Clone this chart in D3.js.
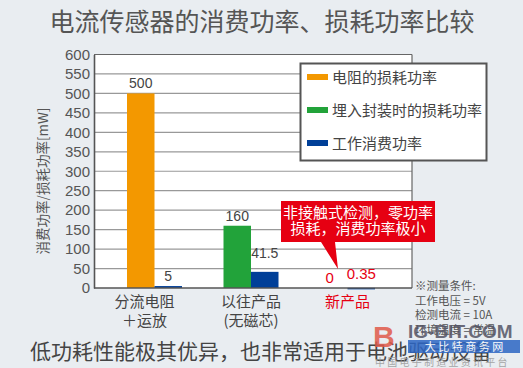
<!DOCTYPE html>
<html><head><meta charset="utf-8">
<script src="https://cdn.jsdelivr.net/npm/d3@7/dist/d3.min.js"></script>
<style>
body{margin:0;background:#e9edf1;}
svg{display:block;font-family:"Liberation Sans","Noto Sans CJK SC",sans-serif;}
</style></head><body>
<svg id="c" width="523" height="368"></svg>
<script>
const categories = ["分流电阻", "以往产品", "新产品"];
const categorySub = ["＋运放", "(无磁芯)", ""];
const seriesNames = ["电阻的损耗功率", "埋入封装时的损耗功率", "工作消费功率"];
const lossValues = [500, 160, 0];          // first bar in each group (resistor / package loss)
const lossSeries = [0, 1, 0];              // which legend series the first bar belongs to
const workValues = [5, 41.5, 0.35];        // working power consumption
const lossLabels = ["500", "160", "0"];
const workLabels = ["5", "41.5", "0.35"];
const yTicks = [0,50,100,150,200,250,300,350,400,450,500,550,600];
const notes = ["※测量条件:", "工作电压 = 5V", "检测电流 = 10A", "环境温度 = 常温"];
const calloutLines = ["非接触式检测，零功率", "损耗，消费功率极小"];

const colors = ["#f39800", "#22a33a", "#003f98"];
const red = "#e60012";
const svg = d3.select("#c");
const W = 523, H = 368;
svg.append("rect").attr("width", W).attr("height", H).attr("fill", "#e9edf1");

const plot = {l: 94, r: 412, t: 54.5, b: 288};
const y = d3.scaleLinear().domain([0, 600]).range([plot.b, plot.t]);
const x = d3.scaleBand().domain(categories).range([127, 375]).paddingInner(0.43).paddingOuter(0);
const xi = d3.scaleBand().domain([0, 1]).range([0, x.bandwidth()]);

// title
svg.append("text").attr("x", 262).attr("y", 31).attr("text-anchor", "middle")
  .attr("font-size", 25).attr("fill", "#555").attr("font-family", "Noto Sans CJK SC")
  .text("电流传感器的消费功率、损耗功率比较");

// plot background
svg.append("rect").attr("x", plot.l).attr("y", plot.t).attr("width", plot.r - plot.l)
  .attr("height", plot.b - plot.t).attr("fill", "#fff");

// grid
svg.append("g").selectAll("line").data(yTicks.filter(d => d > 0)).join("line")
  .attr("x1", plot.l).attr("x2", plot.r).attr("y1", d => y(d)).attr("y2", d => y(d))
  .attr("stroke", d => d === 600 ? "#666" : "#999").attr("stroke-width", 1.2);
svg.append("line").attr("x1", plot.r).attr("x2", plot.r).attr("y1", plot.t).attr("y2", plot.b)
  .attr("stroke", "#666").attr("stroke-width", 1.2);

// y axis
const yAxis = svg.append("g").attr("transform", `translate(${plot.l},0)`)
  .call(d3.axisLeft(y).tickValues(yTicks).tickSize(0).tickPadding(4));
yAxis.select(".domain").attr("stroke", "#555").attr("stroke-width", 1.6);
yAxis.selectAll("text").attr("font-size", 15).attr("fill", "#555")
  .attr("font-family", "Liberation Sans");

// bars
const g = svg.append("g");
categories.forEach((c, i) => {
  const x0 = x(c);
  if (lossValues[i] > 0) {
    g.append("rect").attr("x", x0 + xi(0)).attr("width", xi.bandwidth())
      .attr("y", y(lossValues[i])).attr("height", y(0) - y(lossValues[i]))
      .attr("fill", colors[lossSeries[i]]);
  }
  g.append("rect").attr("x", x0 + xi(1)).attr("width", xi.bandwidth())
    .attr("y", y(workValues[i])).attr("height", Math.max(1.5, y(0) - y(workValues[i])))
    .attr("fill", colors[2]);
  const isNew = i === 2;
  g.append("text").attr("x", x0 + xi(0) + xi.bandwidth() / 2 - (isNew ? 4 : 0)).attr("y", y(lossValues[i]) - 5)
    .attr("text-anchor", "middle").attr("font-size", isNew ? 15 : 14)
    .attr("fill", isNew ? red : "#444").text(lossLabels[i]);
  g.append("text").attr("x", x0 + xi(1) + xi.bandwidth() / 2)
    .attr("y", y(workValues[i]) - (i === 1 ? 14 : (isNew ? 9 : 5)))
    .attr("text-anchor", "middle").attr("font-size", isNew ? 15 : 14)
    .attr("fill", isNew ? red : "#444").text(workLabels[i]);
});

// x baseline
svg.append("line").attr("x1", plot.l).attr("x2", plot.r).attr("y1", plot.b).attr("y2", plot.b)
  .attr("stroke", "#555").attr("stroke-width", 1.6);

// category labels
const labOff = [-10, 0, 0];
categories.forEach((c, i) => {
  const cx = x(c) + x.bandwidth() / 2 + labOff[i];
  svg.append("text").attr("x", cx).attr("y", 307).attr("text-anchor", "middle")
    .attr("font-size", 15).attr("font-family", "Noto Sans CJK SC")
    .attr("fill", i === 2 ? red : "#444").text(c);
  if (categorySub[i]) {
    svg.append("text").attr("x", cx).attr("y", 326).attr("text-anchor", "middle")
      .attr("font-size", 15).attr("font-family", "Noto Sans CJK SC")
      .attr("fill", "#444").text(categorySub[i]);
  }
});

// y axis title
svg.append("text").attr("transform", "translate(48,181) rotate(-90)")
  .attr("text-anchor", "middle").attr("font-size", 13.5).attr("fill", "#555")
  .attr("font-family", "Noto Sans CJK SC").text("消费功率/损耗功率[mW]");

// legend
const lg = svg.append("g");
lg.append("rect").attr("x", 300.5).attr("y", 63.5).attr("width", 186).attr("height", 97)
  .attr("fill", "#fff").attr("stroke", "#555").attr("stroke-width", 2);
seriesNames.forEach((s, i) => {
  const yy = 77 + i * 33;
  lg.append("rect").attr("x", 307).attr("y", yy - 3).attr("width", 21).attr("height", 6)
    .attr("fill", colors[i]);
  lg.append("text").attr("x", 332).attr("y", yy + 5.5).attr("font-size", 15)
    .attr("font-family", "Noto Sans CJK SC").attr("fill", "#444").text(s);
});

// callout
const co = svg.append("g");
co.append("path").attr("d", "M281,201 H435 V242 H335 L338,269 L321,242 H281 Z").attr("fill", red);
calloutLines.forEach((t, i) => {
  co.append("text").attr("x", 358).attr("y", 218 + i * 16).attr("text-anchor", "middle")
    .attr("font-size", 15).attr("font-family", "Noto Sans CJK SC").attr("fill", "#fff").text(t);
});

// notes
notes.forEach((t, i) => {
  svg.append("text").attr("x", 415).attr("y", 290 + i * 14.5).attr("font-size", 11.5)
    .attr("font-family", "Noto Sans CJK SC").attr("fill", "#555").text(t);
});

// bottom text
svg.append("text").attr("x", 30).attr("y", 359).attr("font-size", 21)
  .attr("font-family", "Noto Sans CJK SC").attr("fill", "#444")
  .text("低功耗性能极其优异，也非常适用于电池驱动设备");

// watermark (approximate)
const wm = svg.append("g").attr("opacity", 0.85);
wm.append("text").attr("x", 373).attr("y", 347).attr("font-size", 30).attr("font-weight", "bold")
  .attr("fill", "#e05a4a").attr("font-family", "Liberation Sans").text("B");
wm.append("text").attr("x", 408).attr("y", 338).attr("font-size", 19).attr("font-weight", "bold")
  .attr("fill", "#556").attr("font-family", "Liberation Sans").text("IG-BIT.COM");
wm.append("rect").attr("x", 408).attr("y", 340).attr("width", 112).attr("height", 13).attr("fill", "#2c66c4");
wm.append("text").attr("x", 464).attr("y", 351).attr("text-anchor", "middle").attr("font-size", 11)
  .attr("font-family", "Noto Sans CJK SC").attr("fill", "#fff").text("大 比 特 商 务 网");
wm.append("text").attr("x", 375).attr("y", 366).attr("font-size", 10)
  .attr("font-family", "Noto Sans CJK SC").attr("fill", "#999").text("中 国 电 子 制 造 业 资 讯 平 台");
</script>
</body></html>
